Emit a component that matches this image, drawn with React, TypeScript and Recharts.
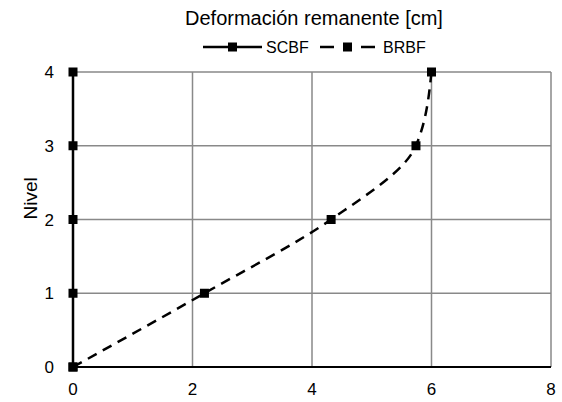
import { ComposedChart, Line, XAxis, YAxis, CartesianGrid } from "recharts"

const levels = [0, 1, 2, 3, 4]
const scbf = [0, 0, 0, 0, 0]
const brbf = [0, 2.2, 4.32, 5.74, 6]
const xTicks = [0, 2, 4, 6, 8]
const yTicks = [0, 1, 2, 3, 4]
const seriesNames = ["SCBF", "BRBF"]

const data = levels.map((level, i) => ({ level, scbf: scbf[i], brbf: brbf[i] }))

const FONT = "'Liberation Sans', Arial, sans-serif"

const Square = (props: any) => {
  const { cx, cy, index } = props
  if (cx == null || cy == null) return null
  return <rect key={`sq-${index}`} x={cx - 4.5} y={cy - 4.5} width={9} height={9} fill="#000" />
}

// title + legend overlay, Excel style
function Header() {
  return (
    <svg width={562} height={66} style={{ position: "absolute", left: 0, top: 0, fontFamily: FONT }}>
      <text x={314} y={25} textAnchor="middle" fontSize={20} fill="#000">
        Deformación remanente [cm]
      </text>
      <line x1={203} y1={47} x2={262} y2={47} stroke="#000" strokeWidth={2.5} />
      <rect x={228} y={42.5} width={9} height={9} fill="#000" />
      <text x={266} y={53} fontSize={16} fill="#000">{seriesNames[0]}</text>
      <line x1={320} y1={47} x2={334} y2={47} stroke="#000" strokeWidth={2.5} />
      <rect x={343} y={42.5} width={9} height={9} fill="#000" />
      <line x1={361} y1={47} x2={375} y2={47} stroke="#000" strokeWidth={2.5} />
      <text x={383} y={53} fontSize={16} fill="#000">{seriesNames[1]}</text>
    </svg>
  )
}

export default function App() {
  return (
    <div style={{ position: "absolute", left: 0, top: 0, width: 562, height: 402, background: "#fff" }}>
      <ComposedChart
        layout="vertical"
        width={562}
        height={402}
        data={data}
        margin={{ top: 72, right: 11, bottom: 10, left: 28 }}
        style={{ fontFamily: FONT }}
      >
        <CartesianGrid stroke="#898989" strokeWidth={1.5} />
        <XAxis
          type="number"
          domain={[0, 8]}
          ticks={xTicks}
          height={25}
          tickSize={0}
          tickMargin={16}
          tickLine={false}
          axisLine={{ stroke: "#000", strokeWidth: 2 }}
          tick={{ fill: "#000", fontSize: 17 }}
        />
        <YAxis
          type="number"
          dataKey="level"
          domain={[0, 4]}
          ticks={yTicks}
          reversed
          width={45}
          tickSize={0}
          tickMargin={19}
          tickLine={false}
          axisLine={{ stroke: "#000", strokeWidth: 2 }}
          tick={{ fill: "#000", fontSize: 17 }}
          label={{ value: "Nivel", angle: -90, position: "insideLeft", offset: 2, fill: "#000", fontSize: 19 }}
        />
        <Line
          dataKey="scbf"
          name={seriesNames[0]}
          type="linear"
          stroke="#000"
          strokeWidth={2.5}
          dot={Square}
          activeDot={false}
          isAnimationActive={false}
        />
        <Line
          dataKey="brbf"
          name={seriesNames[1]}
          type="monotone"
          stroke="#000"
          strokeWidth={2.5}
          strokeDasharray="10 7"
          dot={Square}
          activeDot={false}
          isAnimationActive={false}
        />
      </ComposedChart>
      <Header />
    </div>
  )
}
